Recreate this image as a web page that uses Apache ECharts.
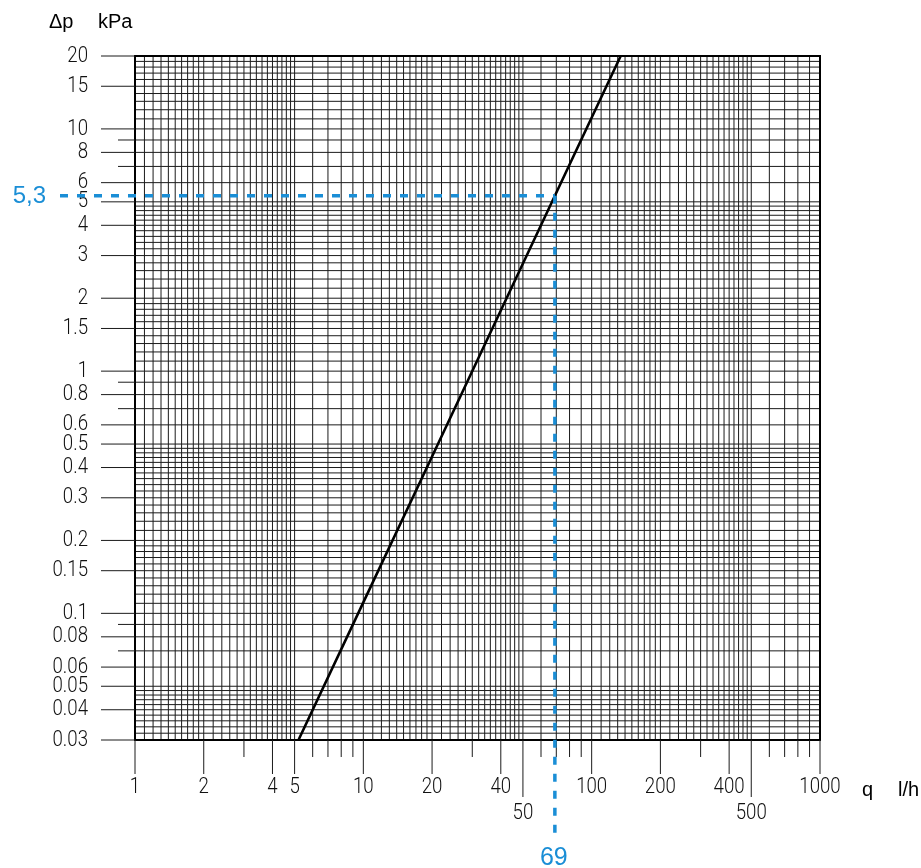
<!DOCTYPE html>
<html>
<head>
<meta charset="utf-8">
<script src="https://cdn.jsdelivr.net/npm/echarts@6/dist/echarts.min.js"></script>
<style>
html,body{margin:0;padding:0;background:#fff;}
#chart{width:921px;height:868px;}
</style>
</head>
<body>
<div id="chart"></div>
<script>
// ---------------- data ----------------
const X_MIN = 1, X_MAX = 1000;
const Y_MIN = 0.03, Y_MAX = 20;
const xLabelValues = [1, 2, 4, 5, 10, 20, 40, 100, 200, 400, 1000];
const xLowLabelValues = [50, 500];
const xShortTickValues = [3, 6, 7, 8, 9, 30, 60, 70, 80, 90, 300, 600, 700, 800, 900];
const yLabelValues = [20, 15, 10, 8, 6, 5, 4, 3, 2, 1.5, 1, 0.8, 0.6, 0.5, 0.4, 0.3, 0.2, 0.15, 0.1, 0.08, 0.06, 0.05, 0.04, 0.03];
const yShortTickValues = [9, 7, 0.9, 0.7, 0.09, 0.07];
// log-paper subdivisions inside one decade: [from, to, step]
const decadeSubdivisions = [[1, 2, 0.1], [2, 5, 0.2], [5, 10, 1]];
// characteristic curve (q in l/h, Δp in kPa)
const flowQ = [5.2, 10, 20, 40, 69, 134];
const pressureDp = [0.03, 0.111, 0.444, 1.78, 5.3, 20];
// example reading
const markerQ = 69, markerDp = 5.3;
const markerQText = '69', markerDpText = '5,3';
const yAxisName = ['Δp', 'kPa'];
const xAxisName = ['q', 'l/h'];

// ---------------- styles ----------------
const tickFont = "300 22.5px Roboto, 'Liberation Sans', sans-serif";
const tickScaleX = 0.83;
const nameFont = "20px 'Liberation Sans', Arial, sans-serif";
const BLUE = '#1a8ed6';
const INK = '#1b1b1b';

function gridValues(min, max) {
  const out = [];
  for (let e = -3; e <= 3; e++) {
    const p = Math.pow(10, e);
    decadeSubdivisions.forEach(function (d) {
      const n = Math.round((d[1] - d[0]) / d[2]);
      for (let i = 0; i < n; i++) {
        const v = +((d[0] + i * d[2]) * p).toPrecision(6);
        if (v > min * 1.0001 && v < max * 0.9999) out.push(v);
      }
    });
  }
  return out;
}
const xGrid = gridValues(X_MIN, X_MAX);
const yGrid = gridValues(Y_MIN, Y_MAX);

function tickText(v, x, y, align) {
  return { type: 'text', x: x, y: y, scaleX: tickScaleX,
    style: { text: String(v), x: 0, y: 0, align: align, verticalAlign: 'middle', font: tickFont, fill: '#111' } };
}

const chart = echarts.init(document.getElementById('chart'), null, { renderer: 'canvas' });

const option = {
  animation: false,
  backgroundColor: '#fff',
  grid: { left: 135, top: 56, width: 685, height: 684, containLabel: false },
  xAxis: {
    type: 'log', logBase: 10, min: X_MIN, max: X_MAX,
    axisLine: { show: false }, axisTick: { show: false }, axisLabel: { show: false }, splitLine: { show: false }
  },
  yAxis: {
    type: 'log', logBase: 10, min: Y_MIN, max: Y_MAX,
    axisLine: { show: false }, axisTick: { show: false }, axisLabel: { show: false }, splitLine: { show: false }
  },
  series: [
    { // vertical grid lines
      type: 'custom', silent: true, z: 1,
      data: xGrid.map(function (v) { return [v, 1]; }),
      renderItem: function (params, api) {
        const v = api.value(0);
        const a = api.coord([v, Y_MAX]), b = api.coord([v, Y_MIN]);
        return { type: 'line', shape: { x1: a[0], y1: a[1], x2: b[0], y2: b[1] }, style: { stroke: INK, lineWidth: 1 } };
      }
    },
    { // horizontal grid lines
      type: 'custom', silent: true, z: 1,
      data: yGrid.map(function (v) { return [1, v]; }),
      renderItem: function (params, api) {
        const v = api.value(1);
        const a = api.coord([X_MIN, v]), b = api.coord([X_MAX, v]);
        return { type: 'line', shape: { x1: a[0], y1: a[1], x2: b[0], y2: b[1] }, style: { stroke: INK, lineWidth: 1 } };
      }
    },
    { // frame
      type: 'custom', silent: true, z: 3,
      data: [[X_MIN, Y_MIN]],
      renderItem: function (params, api) {
        const a = api.coord([X_MIN, Y_MAX]), b = api.coord([X_MAX, Y_MIN]);
        return { type: 'rect', shape: { x: a[0], y: a[1], width: b[0] - a[0], height: b[1] - a[1] },
          style: { fill: null, stroke: '#000', lineWidth: 2 } };
      }
    },
    { // x ticks with labels
      type: 'custom', silent: true, z: 3,
      data: xLabelValues.map(function (v) { return [v, Y_MIN]; }),
      renderItem: function (params, api) {
        const v = api.value(0);
        const p = api.coord([v, Y_MIN]);
        return { type: 'group', children: [
          { type: 'line', shape: { x1: p[0], y1: p[1], x2: p[0], y2: p[1] + 34 }, style: { stroke: INK, lineWidth: 1 } },
          tickText(v, p[0], p[1] + 47, 'center')
        ] };
      }
    },
    { // x ticks with lower labels
      type: 'custom', silent: true, z: 3,
      data: xLowLabelValues.map(function (v) { return [v, Y_MIN]; }),
      renderItem: function (params, api) {
        const v = api.value(0);
        const p = api.coord([v, Y_MIN]);
        return { type: 'group', children: [
          { type: 'line', shape: { x1: p[0], y1: p[1], x2: p[0], y2: p[1] + 57 }, style: { stroke: INK, lineWidth: 1 } },
          tickText(v, p[0], p[1] + 73, 'center')
        ] };
      }
    },
    { // x short ticks
      type: 'custom', silent: true, z: 3,
      data: xShortTickValues.map(function (v) { return [v, Y_MIN]; }),
      renderItem: function (params, api) {
        const p = api.coord([api.value(0), Y_MIN]);
        return { type: 'line', shape: { x1: p[0], y1: p[1], x2: p[0], y2: p[1] + 17 }, style: { stroke: INK, lineWidth: 1 } };
      }
    },
    { // y ticks with labels
      type: 'custom', silent: true, z: 3,
      data: yLabelValues.map(function (v) { return [X_MIN, v]; }),
      renderItem: function (params, api) {
        const v = api.value(1);
        const p = api.coord([X_MIN, v]);
        return { type: 'group', children: [
          { type: 'line', shape: { x1: p[0] - 34, y1: p[1], x2: p[0], y2: p[1] }, style: { stroke: INK, lineWidth: 1 } },
          tickText(v, p[0] - 47, p[1], 'right')
        ] };
      }
    },
    { // y short ticks
      type: 'custom', silent: true, z: 3,
      data: yShortTickValues.map(function (v) { return [X_MIN, v]; }),
      renderItem: function (params, api) {
        const p = api.coord([X_MIN, api.value(1)]);
        return { type: 'line', shape: { x1: p[0] - 17, y1: p[1], x2: p[0], y2: p[1] }, style: { stroke: INK, lineWidth: 1 } };
      }
    },
    { // characteristic curve
      type: 'line', z: 4, silent: true,
      data: flowQ.map(function (q, i) { return [q, pressureDp[i]]; }),
      symbol: 'none',
      lineStyle: { color: '#000', width: 2.6 }
    },
    { // example reading
      type: 'custom', silent: true, z: 5,
      data: [[markerQ, markerDp]],
      renderItem: function (params, api) {
        const p = api.coord([api.value(0), api.value(1)]);
        const dash = { stroke: BLUE, lineWidth: 3.5, lineDash: [8, 9] };
        return { type: 'group', children: [
          { type: 'line', shape: { x1: 60, y1: p[1], x2: p[0], y2: p[1] }, style: dash },
          { type: 'line', shape: { x1: p[0], y1: p[1], x2: p[0], y2: 837 }, style: dash },
          { type: 'text', style: { text: markerDpText, x: 46, y: p[1] + 1, align: 'right', verticalAlign: 'middle', font: "24px 'Liberation Sans', Arial, sans-serif", fill: BLUE } },
          { type: 'text', style: { text: markerQText, x: p[0] - 1, y: 858, align: 'center', verticalAlign: 'middle', font: "25px 'Liberation Sans', Arial, sans-serif", fill: BLUE } }
        ] };
      }
    }
  ],
  graphic: [
    { type: 'text', left: 49, top: 12, style: { text: yAxisName[0], font: nameFont, fill: '#000' } },
    { type: 'text', left: 98, top: 12, style: { text: yAxisName[1], font: nameFont, fill: '#000' } },
    { type: 'text', left: 862, top: 780, style: { text: xAxisName[0], font: nameFont, fill: '#000' } },
    { type: 'text', left: 898, top: 780, style: { text: xAxisName[1], font: nameFont, fill: '#000' } }
  ]
};
chart.setOption(option);
</script>
</body>
</html>
